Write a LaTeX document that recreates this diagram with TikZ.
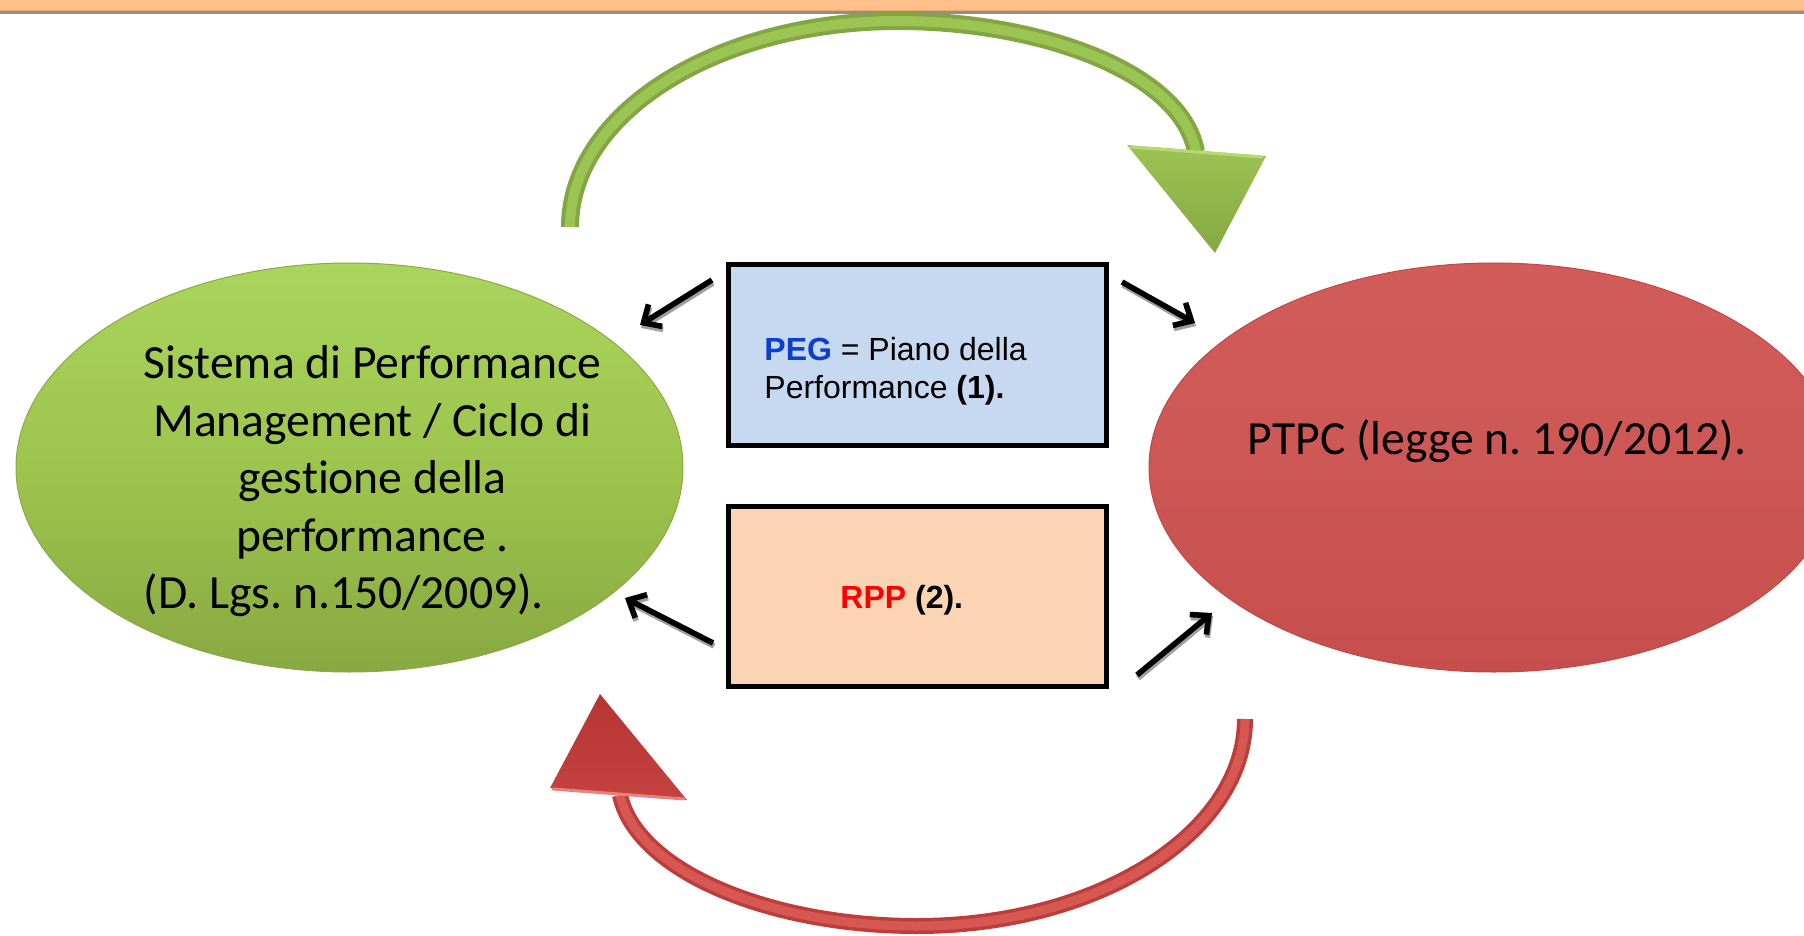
\documentclass[tikz,border=0pt]{standalone}
\usepackage{fontspec}
\setmainfont{Liberation Sans}
\newfontfamily\calibrifont[Ligatures=NoCommon]{Carlito}
\frenchspacing
\usetikzlibrary{shapes.geometric,arrows.meta}

\definecolor{band}{HTML}{FFC08C}
\definecolor{bandedge}{HTML}{F3A86A}
\definecolor{bandline}{HTML}{8E8E8E}
\definecolor{gtop}{HTML}{AAD45C}
\definecolor{gmid}{HTML}{9DC54D}
\definecolor{gbot}{HTML}{88A842}
\definecolor{gedge}{HTML}{8AAA44}
\definecolor{rtop}{HTML}{D15C59}
\definecolor{rmid}{HTML}{CD5755}
\definecolor{rbot}{HTML}{C64F4D}
\definecolor{redge}{HTML}{C04846}
\definecolor{pegfill}{HTML}{C6D9F1}
\definecolor{rppfill}{HTML}{FBD4B4}
\definecolor{pegblue}{HTML}{0B3FCC}
\definecolor{rppred}{HTML}{FF0000}
\definecolor{garcdark}{HTML}{82A642}
\definecolor{garclight}{HTML}{9CC453}
\definecolor{gheadtop}{HTML}{9CC354}
\definecolor{gheadbot}{HTML}{85A840}
\definecolor{gheadhl}{HTML}{B6D973}
\definecolor{rarcdark}{HTML}{BC3D3A}
\definecolor{rarclight}{HTML}{D75753}
\definecolor{rheadtop}{HTML}{B63532}
\definecolor{rheadbot}{HTML}{C4423F}
\definecolor{rheadhl}{HTML}{E8827E}

\tikzset{
  oval/.style={ellipse, inner sep=0pt, minimum height=204.5pt},
  greenoval/.style={oval, minimum width=333.5pt,
    top color=gtop, bottom color=gbot, middle color=gmid,
    draw=gedge, line width=0.5pt},
  redoval/.style={oval, minimum width=345pt,
    top color=rtop, bottom color=rbot, middle color=rmid,
    draw=redge, line width=0.5pt},
  notebox/.style={rectangle, draw=black, line width=2.5pt,
    minimum width=189pt, inner sep=0pt},
  boxtext/.style={inner sep=0pt, font=\fontsize{16}{19}\selectfont},
  ovaltext/.style={inner sep=0pt, font=\calibrifont\fontsize{23.8}{28.7}\selectfont},
  link/.style={line width=2.8pt, draw=black,
    -{Straight Barb[length=7pt,width=13pt]}},
  linkshadow/.style={link, draw=gray!75, transform canvas={shift={(1,3)}}},
}

\begin{document}
\begin{tikzpicture}[x=0.5pt,y=-0.5pt]
\useasboundingbox (0,0) rectangle (1804,936);
\clip (0,0) rectangle (1804,936);

% title band along the top edge
\fill[band] (0,0) rectangle (1804,11);
\draw[bandedge, line width=0.6pt] (0,10.5) -- (1804,10.5);
\draw[bandline, line width=1.3pt] (0,12.8) -- (1804,12.8);

% the two cycles
\node[greenoval] (green) at (349.5,467.5) {};
\node[redoval] (red) at (1494,467.5) {};

\node[ovaltext, anchor=base] (greentext) at (372.5,379)
  {\begin{tabular}[t]{@{}c@{}}
   Sistema di Performance\\
   Management / Ciclo di\\
   gestione della\\
   performance .\\
   \multicolumn{1}{@{}l@{}}{(D. Lgs. n.150/2009).}
   \end{tabular}};
\node[ovaltext, anchor=base] (redtext) at (1497,454) {PTPC (legge n. 190/2012).};

% planning documents in the middle
\node[notebox, fill=pegfill, minimum height=90.5pt] (peg) at (917.5,355) {};
\node[notebox, fill=rppfill, minimum height=90pt] (rpp) at (917.5,596.5) {};

\node[boxtext, anchor=base west] (pegtext) at (764,360)
  {\begin{tabular}[t]{@{}l@{}}
   \textbf{\color{pegblue}PEG} = Piano della\\
   Performance \textbf{(1).}
   \end{tabular}};
\node[boxtext, anchor=base west] (rpptext) at (840,608)
  {\textbf{\color{rppred}RPP} \textbf{(2).}};

% links between boxes and cycles
\coordinate (pegL) at (712,280);  \coordinate (greenT) at (640,325);
\coordinate (pegR) at (1122,282); \coordinate (redT) at (1195,323);
\coordinate (rppL) at (713,643);  \coordinate (greenB) at (625,598);
\coordinate (rppR) at (1137,675); \coordinate (redB) at (1212,613);

\foreach \a/\b in {pegL/greenT, pegR/redT, rppL/greenB, rppR/redB}{
  \draw[linkshadow] (\a) -- (\b);
  \draw[link] (\a) -- (\b);
}

% curved arrow from the performance cycle to the PTPC
\coordinate (gA) at (570,227);
\coordinate (gT) at (898,21);
\coordinate (gB) at (1196,152);
\def\greenarc{(gA) .. controls (570,113) and (717,21) .. (gT)
  .. controls (1040,21) and (1182,72) .. (gB)}
\draw[garcdark, line width=9pt] \greenarc;
\draw[garclight, line width=5pt] \greenarc;
\shade[top color=gheadtop, bottom color=gheadbot]
  (1127,145) -- (1266,156) -- (1215,253) -- cycle;
\draw[gheadhl, line width=1.5pt, line cap=round] (1131,147) -- (1262,157);

% curved arrow from the PTPC back to the performance cycle
\coordinate (rA) at (1245,719);
\coordinate (rM) at (917,926);
\coordinate (rB) at (620,795);
\def\redarc{(rA) .. controls (1245,833) and (1098,926) .. (rM)
  .. controls (767,926) and (636,870) .. (rB)}
\draw[rarcdark, line width=8pt] \redarc;
\draw[rarclight, line width=4.5pt] \redarc;
\shade[top color=rheadtop, bottom color=rheadbot]
  (600,694) -- (687,800) -- (550,788) -- cycle;
\draw[rheadhl, line width=1.5pt, line cap=round] (553,789) -- (684,799);

\end{tikzpicture}
\end{document}
